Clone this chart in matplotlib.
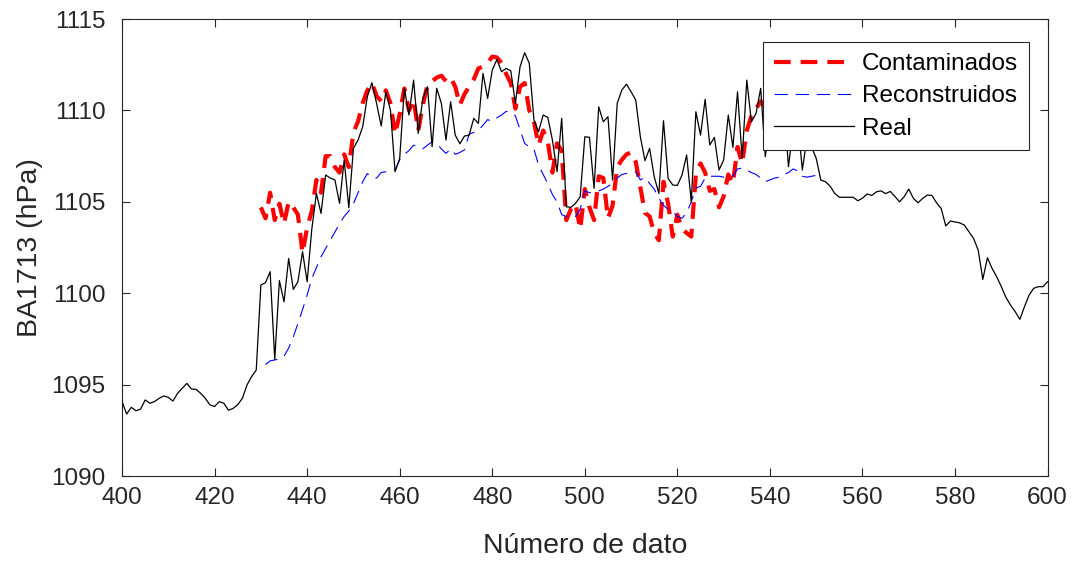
import matplotlib
matplotlib.use("Agg")
import matplotlib.pyplot as plt
import numpy as np

plt.rcParams['font.family'] = ['Liberation Sans', 'DejaVu Sans']

# ---- data ----
real_start = 400
real_vals = [
    1094.07, 1093.39, 1093.76, 1093.57, 1093.66, 1094.16, 1093.98, 1094.07, 1094.25, 1094.38,  # 400-409
    1094.30, 1094.10, 1094.52, 1094.80, 1095.07, 1094.76, 1094.74, 1094.52, 1094.25, 1093.89,  # 410-419
    1093.80, 1094.07, 1093.98, 1093.60, 1093.70, 1093.90, 1094.25, 1094.98, 1095.44, 1095.80,  # 420-429
    1100.45, 1100.58, 1101.18, 1096.38, 1100.69, 1099.53, 1101.90, 1100.21, 1100.63, 1102.27,  # 430-439
    1100.63, 1103.50, 1105.46, 1104.37, 1106.47, 1106.30, 1106.20, 1104.92, 1107.29, 1104.68,  # 440-449
    1107.93, 1108.38, 1109.11, 1110.75, 1111.52, 1110.39, 1109.15, 1111.02, 1110.02, 1106.65,  # 450-459
    1107.38, 1111.21, 1109.75, 1111.66, 1108.75, 1110.66, 1111.30, 1108.02, 1111.21, 1110.39,  # 460-469
    1108.38, 1110.48, 1108.65, 1108.18, 1108.60, 1108.65, 1109.57, 1109.29, 1112.03, 1110.66,  # 470-479
    1112.21, 1112.79, 1112.12, 1112.30, 1112.17, 1110.39, 1112.39, 1113.16, 1112.58, 1109.48,  # 480-489
    1108.84, 1109.75, 1109.62, 1108.38, 1106.65, 1109.57, 1104.73, 1104.70, 1104.92, 1105.28,  # 490-499
    1108.56, 1108.53, 1105.74, 1110.20, 1109.38, 1109.66, 1106.19, 1110.39, 1111.12, 1111.44,  # 500-509
    1111.02, 1110.57, 1108.56, 1107.25, 1107.93, 1106.37, 1105.46, 1109.44, 1106.28, 1105.92,  # 510-519
    1105.90, 1106.47, 1107.56, 1105.01, 1109.93, 1108.65, 1110.61, 1108.11, 1108.53, 1106.74,  # 520-529
    1107.29, 1109.75, 1107.98, 1111.02, 1107.38, 1111.66, 1109.38, 1109.84, 1111.21, 1107.47,  # 530-539
    1109.50, 1111.50, 1108.50, 1110.50, 1106.92, 1109.00, 1109.50, 1106.74, 1108.50, 1108.00,  # 540-549
    1107.38, 1106.19, 1106.10, 1105.86, 1105.46, 1105.25, 1105.25, 1105.25, 1105.25, 1105.06,  # 550-559
    1105.20, 1105.43, 1105.35, 1105.55, 1105.60, 1105.45, 1105.57, 1105.30, 1105.00, 1105.28,  # 560-569
    1105.70, 1105.19, 1104.95, 1105.19, 1105.37, 1105.35, 1104.95, 1104.64, 1103.68, 1103.95,  # 570-579
    1103.90, 1103.85, 1103.73, 1103.37, 1103.00, 1102.36, 1100.76, 1101.94, 1101.36, 1100.90,  # 580-589
    1100.36, 1099.77, 1099.35, 1098.99, 1098.57, 1099.26, 1099.90, 1100.27, 1100.36, 1100.36,  # 590-599
    1100.63,                                                                                   # 600
]

cont_start = 430
cont_vals = [
    1104.7, 1104.1, 1105.5, 1104.0, 1104.9, 1103.8, 1105.0, 1104.7, 1104.3, 1102.2,  # 430-439
    1103.6, 1104.5, 1106.2, 1105.5, 1107.5, 1107.5, 1106.9, 1106.6, 1107.6, 1106.9,  # 440-449
    1108.8, 1109.4, 1110.4, 1111.1, 1111.5, 1110.8, 1110.5, 1111.1, 1110.4, 1108.7,  # 450-459
    1109.8, 1111.2, 1110.0, 1110.6, 1108.9, 1110.3, 1111.4, 1111.6, 1111.8, 1111.9,  # 460-469
    1111.6, 1111.8, 1111.3, 1110.3, 1110.9, 1111.3, 1111.7, 1112.3, 1112.4, 1112.6,  # 470-479
    1112.95, 1112.9, 1112.6, 1112.0, 1111.5, 1110.1, 1111.3, 1111.5, 1110.0, 1109.4,  # 480-489
    1108.1, 1108.9, 1108.3, 1106.6, 1108.2, 1107.8, 1104.0, 1104.6, 1104.9, 1103.5,  # 490-499
    1105.7, 1104.7, 1104.0, 1106.4, 1106.3, 1104.1, 1104.8, 1106.9, 1107.3, 1107.6,  # 500-509
    1107.7, 1107.2, 1105.8, 1104.4, 1104.2, 1103.3, 1102.9, 1106.1, 1104.9, 1103.1,  # 510-519
    1104.3, 1103.5, 1103.3, 1103.1, 1106.5, 1107.1, 1106.6, 1105.6, 1105.7, 1104.7,  # 520-529
    1105.3, 1106.5, 1106.0, 1108.0, 1107.1, 1108.9, 1109.7, 1110.1, 1110.5, 1110.2,  # 530-539
    1110.8,                                                                          # 540
]

rec_start = 431
rec_vals = [
    1096.1, 1096.3, 1096.35, 1096.4, 1096.55, 1097.0, 1097.6, 1098.35, 1099.1,        # 431-439
    1099.9, 1100.8, 1101.4, 1102.0, 1102.45, 1102.9, 1103.35, 1103.8, 1104.2, 1104.5,  # 440-449
    1104.9, 1105.5, 1106.1, 1106.55, 1106.35, 1106.3, 1106.6, 1106.65, 1106.7, 1106.75,  # 450-459
    1107.3, 1107.6, 1107.8, 1108.1, 1108.0, 1107.9, 1108.1, 1108.3, 1108.2, 1107.9,  # 460-469
    1107.65, 1107.9, 1107.6, 1107.7, 1107.85, 1108.7, 1108.8, 1108.9, 1109.2, 1109.5,  # 470-479
    1109.4, 1109.6, 1109.75, 1109.95, 1109.9, 1109.7, 1108.95, 1108.2, 1108.0, 1107.9,  # 480-489
    1107.0, 1106.5, 1106.0, 1105.4, 1105.0, 1104.3, 1104.2, 1104.2, 1104.2, 1104.6,  # 490-499
    1105.6, 1105.5, 1105.55, 1105.6, 1105.7, 1105.85, 1106.0, 1106.3, 1106.5, 1106.55,  # 500-509
    1106.6, 1106.65, 1106.2, 1106.35, 1106.0, 1105.7, 1105.2, 1104.8, 1104.6, 1104.45,  # 510-519
    1104.2, 1104.1, 1104.4, 1105.0, 1105.75, 1105.85, 1106.3, 1106.4, 1106.4, 1106.4,  # 520-529
    1106.35, 1106.35, 1106.4, 1106.8, 1106.85, 1106.75, 1106.6, 1106.5, 1106.3, 1106.1,  # 530-539
    1106.2, 1106.3, 1106.35, 1106.5, 1106.6, 1106.8, 1106.7, 1106.4, 1106.35, 1106.4,  # 540-549
    1106.45, 1106.2,                                                                  # 550-551
]

labels = ["Contaminados", "Reconstruidos", "Real"]
x_label = "Número de dato"
y_label = "BA1713 (hPa)"
x_ticks = list(range(400, 601, 20))
y_ticks = list(range(1090, 1116, 5))

# ---- plot ----
fig = plt.figure(figsize=(10.8, 5.61), dpi=100)
ax = fig.add_axes([0.113, 0.1515, 0.857, 0.8145])

x_real = np.arange(real_start, real_start + len(real_vals))
x_cont = np.arange(cont_start, cont_start + len(cont_vals))
x_rec = np.arange(rec_start, rec_start + len(rec_vals))

ax.plot(x_cont, cont_vals, color="#ff0000", lw=3.0, ls=(0, (4.0, 2.4)), label=labels[0], zorder=2)
ax.plot(x_rec, rec_vals, color="#0000ff", lw=0.8, ls=(0, (12, 7)), label=labels[1], zorder=3)
ax.plot(x_real, real_vals, color="black", lw=0.9, label=labels[2], zorder=4)

ax.set_xlim(400, 600)
ax.set_ylim(1090, 1115)
ax.set_xticks(x_ticks)
ax.set_yticks(y_ticks)
ax.tick_params(direction="in", top=True, right=True, length=6, width=0.8,
               labelsize=17.5, colors="#262626")
ax.tick_params(axis="x", pad=8)
ax.tick_params(axis="y", pad=12)
for s in ax.spines.values():
    s.set_linewidth(0.8)
    s.set_color("#262626")
ax.set_xlabel(x_label, fontsize=20.5, color="#262626", labelpad=17)
ax.set_ylabel(y_label, fontsize=20.5, color="#262626", labelpad=6)

leg = ax.legend(loc="upper right", bbox_to_anchor=(0.9795, 0.9495), fontsize=17.5,
                frameon=True, fancybox=False, framealpha=1, edgecolor="#262626",
                handlelength=3.3, borderpad=0.45, labelspacing=0.42, handletextpad=0.3,
                borderaxespad=0)
leg.get_frame().set_linewidth(0.8)
leg.set_zorder(10)

fig.savefig("out.png", dpi=100)
